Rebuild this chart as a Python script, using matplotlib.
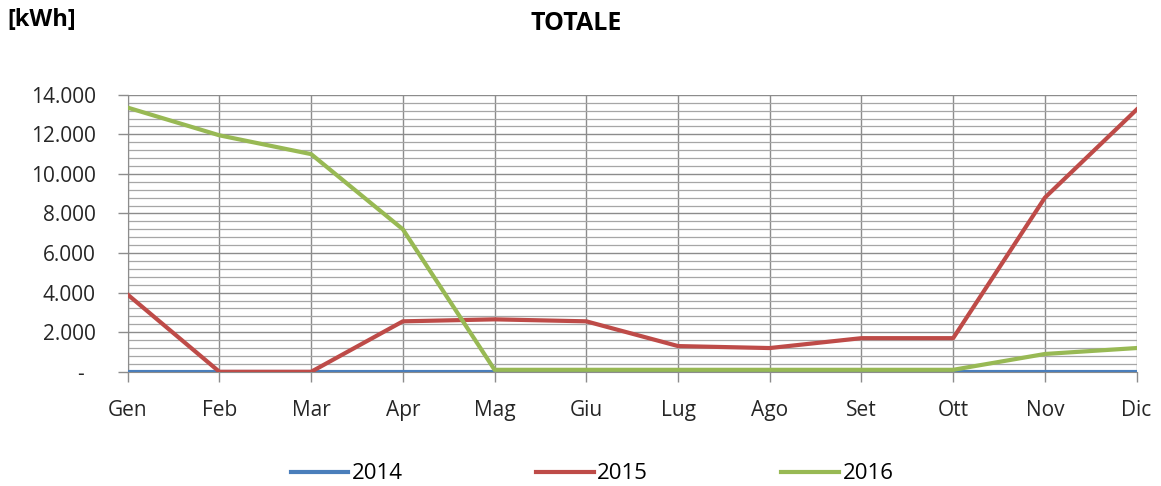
import matplotlib.pyplot as plt
from matplotlib.ticker import FuncFormatter, MultipleLocator

months = ['Gen', 'Feb', 'Mar', 'Apr', 'Mag', 'Giu', 'Lug', 'Ago', 'Set', 'Ott', 'Nov', 'Dic']
y2014 = [0, 0, 0, 0, 0, 0, 0, 0, 0, 0, 0, 0]
y2015 = [3900, 0, 0, 2550, 2650, 2550, 1300, 1200, 1700, 1700, 8800, 13250]
y2016 = [13350, 11950, 11000, 7200, 100, 100, 100, 100, 100, 100, 900, 1200]

plt.rcParams['font.family'] = ['Open Sans', 'DejaVu Sans']

fig = plt.figure(figsize=(11.61, 4.86), dpi=100)
ax = fig.add_axes([0.110, 0.235, 0.869, 0.570])

x = range(len(months))
ax.plot(x, y2014, color='#4a7ebb', lw=3.0, label='2014', zorder=3)
ax.plot(x, y2015, color='#be4b48', lw=3.0, label='2015', zorder=4)
ax.plot(x, y2016, color='#98b954', lw=3.0, label='2016', zorder=5)

ax.set_xlim(0, len(months) - 1)
ax.set_ylim(0, 14000)
ax.set_xticks(list(x))
ax.set_xticklabels(months)
ax.yaxis.set_major_locator(MultipleLocator(2000))
ax.yaxis.set_minor_locator(MultipleLocator(400))
ax.yaxis.set_major_formatter(FuncFormatter(
    lambda v, p: '-  ' if v == 0 else f'{int(v):,}'.replace(',', '.')))

ax.grid(which='major', axis='both', color='#8c8c8c', lw=1.0)
ax.grid(which='minor', axis='y', color='#a6a6a6', lw=0.9)
ax.set_axisbelow(True)

for s in ['top', 'right']:
    ax.spines[s].set_visible(False)
ax.spines['left'].set_color('#8c8c8c')
ax.spines['bottom'].set_color('#8c8c8c')
ax.tick_params(axis='both', which='major', colors='#8c8c8c', labelcolor='#262626',
               labelsize=15, length=7, width=1)
ax.tick_params(axis='y', which='minor', length=0)
ax.tick_params(axis='y', pad=16)
ax.tick_params(axis='x', pad=13)

fig.text(0.496, 0.951, 'TOTALE', ha='center', va='center', fontsize=18, fontweight='bold')
fig.text(0.006, 0.959, '[kWh]', ha='left', va='center', fontsize=17, fontweight='bold')

fig.legend(loc='center', bbox_to_anchor=(0.510, 0.025), ncol=3, frameon=False,
           fontsize=16, handlelength=2.6, handletextpad=0.15, columnspacing=6.0)

fig.savefig('out.png', dpi=100)
